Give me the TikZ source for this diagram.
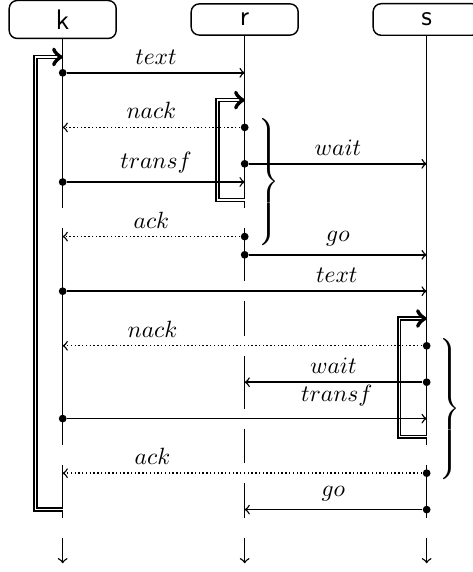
\documentclass[tikz,border=0pt]{standalone}
\usepackage{tikz}

\newcommand{\tallbrace}[1]{$\nulldelimiterspace=0pt\delimitershortfall=0pt\delimiterfactor=1000\left.\vcenter{\hrule height #1 width 0pt}\right\}$}

\begin{document}
\begin{tikzpicture}[x=0.272cm, y=-0.272cm, semithick,
	actor/.style = {draw, rounded corners=3.4pt, minimum width=45.5pt, inner ysep=3.9pt, font=\sffamily\large},
	dot/.style = {circle, fill, inner sep=0pt, minimum size=3.3pt},
	msg/.style = {->},
	reply/.style = {->, densely dotted},
	loopline/.style = {double, ->},
	bracenode/.style = {inner sep=0pt, anchor=west},]
		
		\useasboundingbox (-3.445,0) rectangle (22.54,31.43);
		
		\node[actor] (k) at (0,1.07) {k};
		\node[actor] (r) at (10,1.07) {r};
		\node[actor] (s) at (20,1.07) {s};
		
		% lifelines, broken where a message goes across
		\draw (k) -- (0,11.45);
		\foreach \ya/\yb in {12.55/24.45, 25.55/28.45}
			\draw (0,\ya) -- (0,\yb);
		\draw (r) -- (10,11.45);
		\foreach \ya/\yb in {12.55/15.45, 16.55/18.45, 19.55/22.45, 23.55/25.45, 26.55/28.45}
			\draw (10,\ya) -- (10,\yb);
		\draw (s) -- (20,24.45);
		\draw (20,25.55) -- (20,28.45);
		\foreach \x in {0,10,20}
			\draw[->] (\x,29.55) -- (\x,30.95);
		
		% loops
		\coordinate (kin) at (0,3.13);
		\coordinate (kout) at (0,28);
		\coordinate (rin) at (10,5.5);
		\coordinate (rout) at (10,11);
		\coordinate (sin) at (20,17.5);
		\coordinate (sout) at (20,24);
		\draw[loopline] (kout) -- ++(-1.5,0) |- (kin);
		\draw[loopline] (rout) -- ++(-1.5,0) |- (rin);
		\draw[loopline] (sout) -- ++(-1.5,0) |- (sin);
		
		% messages
		\node[dot] (k4) at (0,4) {};
		\coordinate (r4) at (10,4);
		\node[dot] (r7) at (10,7) {};
		\coordinate (k7) at (0,7);
		\node[dot] (r9) at (10,9) {};
		\coordinate (s9) at (20,9);
		\node[dot] (k10) at (0,10) {};
		\coordinate (r10) at (10,10);
		\node[dot] (r13) at (10,13) {};
		\coordinate (k13) at (0,13);
		\node[dot] (r14) at (10,14) {};
		\coordinate (s14) at (20,14);
		\node[dot] (k16) at (0,16) {};
		\coordinate (s16) at (20,16);
		\node[dot] (s19) at (20,19) {};
		\coordinate (k19) at (0,19);
		\node[dot] (s21) at (20,21) {};
		\coordinate (r21) at (10,21);
		\node[dot] (k23) at (0,23) {};
		\coordinate (s23) at (20,23);
		\node[dot] (s26) at (20,26) {};
		\coordinate (k26) at (0,26);
		\node[dot] (s28) at (20,28) {};
		\coordinate (r28) at (10,28);
		
		\draw[msg] (k4) -- node[above] {$text$} (r4);
		\draw[reply] (r7) -- node[above] {$nack$} (k7);
		\draw[msg] (r9) -- node[above] {$wait$} (s9);
		\draw[msg] (k10) -- node[above] {$transf$} (r10);
		\draw[reply] (r13) -- node[above] {$ack$} (k13);
		\draw[msg] (r14) -- node[above] {$go$} (s14);
		\draw[msg] (k16) -- node[above, pos=0.75] {$text$} (s16);
		\draw[reply] (s19) -- node[above, pos=0.75] {$nack$} (k19);
		\draw[msg] (s21) -- node[above] {$wait$} (r21);
		\draw[msg] (k23) -- node[above, pos=0.75, yshift=1.5pt] {$transf$} (s23);
		\draw[reply] (s26) -- node[above, pos=0.75] {$ack$} (k26);
		\draw[msg] (s28) -- node[above] {$go$} (r28);
		
		% braces
		\node[bracenode] (rbrace) at (10.73,10) {\tallbrace{54pt}};
		\node[bracenode] (sbrace) at (20.67,22.47) {\tallbrace{60pt}};
		
	\end{tikzpicture}
\end{document}
